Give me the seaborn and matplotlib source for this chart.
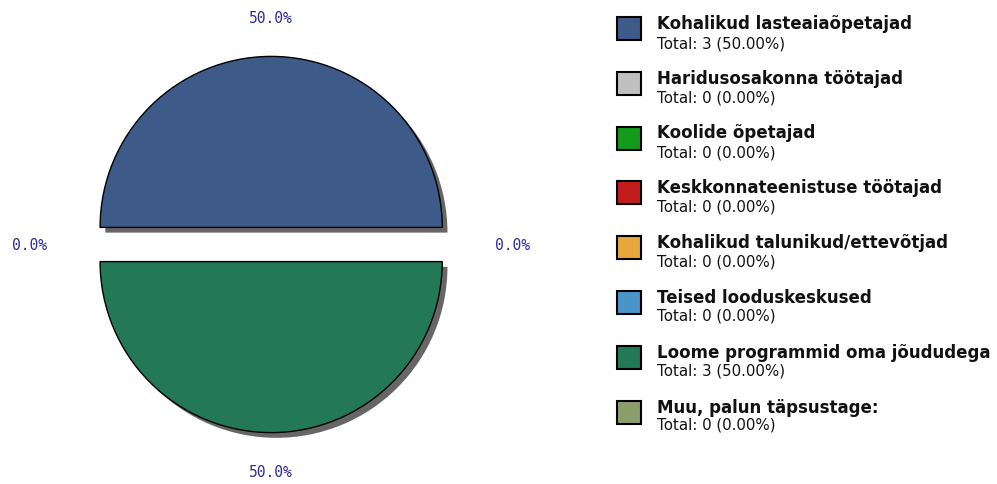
import numpy as np
import seaborn as sns
import matplotlib.pyplot as plt
from matplotlib.patches import Patch, Rectangle
from matplotlib.legend_handler import HandlerPatch

categories = ["Kohalikud lasteaiaõpetajad", "Haridusosakonna töötajad", "Koolide õpetajad",
              "Keskkonnateenistuse töötajad", "Kohalikud talunikud/ettevõtjad",
              "Teised looduskeskused", "Loome programmid oma jõududega", "Muu, palun täpsustage:"]
counts = [3, 0, 0, 0, 0, 0, 3, 0]
colors = ["#3d5a89", "#c0c0c0", "#149b1c", "#c41c1c", "#e6a83c", "#4b94c8", "#237858", "#8b9d6b"]

sns.set_theme(style="white")
plt.rcParams['font.family'] = ['DejaVu Sans']

total = sum(counts)
pcts = [100.0 * c / total for c in counts]

fig = plt.figure(figsize=(9.97, 4.85), dpi=100)
ax = fig.add_axes([0, 0, 0.545, 1])

wedges, texts = ax.pie(counts, colors=colors, startangle=0, counterclock=True,
                       explode=[0.1] * len(counts), radius=1.0,
                       labels=["%.1f%%" % p for p in pcts], labeldistance=1.3,
                       shadow={'ox': 0.022, 'oy': -0.022, 'facecolor': '#666666',
                               'edgecolor': 'none', 'alpha': 1, 'zorder': 0.5},
                       wedgeprops={'edgecolor': 'black', 'linewidth': 1.0, 'zorder': 1})

# percentage labels placed on an ellipse around the pie, one per angle
seen = set()
for w, t, c in zip(wedges, texts, counts):
    if c == 0:
        w.set_linewidth(0)
    ang = np.deg2rad((w.theta1 + w.theta2) / 2)
    key = round(np.cos(ang), 3), round(np.sin(ang), 3)
    t.set_visible(key not in seen)
    seen.add(key)
    t.set_position((1.41 * np.cos(ang), 1.33 * np.sin(ang)))
    t.set_ha('center')
    t.set_va('center')
    t.set_color('#2b2b9b')
    t.set_family('DejaVu Sans Mono')
    t.set_fontsize(10.5)

ax.set_xlim(-1.585, 1.591)
ax.set_ylim(-1.4006, 1.4357)
ax.set_aspect('auto')
ax.axis('off')


def low_square(legend, orig_handle, xdescent, ydescent, width, height, fontsize):
    # swatch sits a bit lower than the text baseline
    return Rectangle((-xdescent, -ydescent - 4.3), width, height)


# legend: category names with swatches, then a second legend with the totals
fs1, fs2 = 12, 10.8
hl, hh, tp, ls = 1.44, 1.75, 1.0, 1.91
x0 = 0.612
handles = [Patch(facecolor=c, edgecolor='black', linewidth=1.5) for c in colors]
leg = fig.legend(handles, categories, loc='upper left', bbox_to_anchor=(x0, 0.977 + 6 / 485),
                 frameon=False, prop={'weight': 'bold', 'size': fs1},
                 handlelength=hl, handleheight=hh, handletextpad=tp,
                 labelspacing=ls, borderaxespad=0,
                 handler_map={Patch: HandlerPatch(patch_func=low_square)})
for t in leg.get_texts():
    t.set_color('#111111')

totals = ["Total: %d (%.2f%%)" % (c, p) for c, p in zip(counts, pcts)]
blank = [Patch(facecolor='none', edgecolor='none') for c in colors]
k = fs1 / fs2
leg2 = fig.legend(blank, totals, loc='upper left', bbox_to_anchor=(x0, 0.977 - 15 / 485),
                  frameon=False, prop={'size': fs2},
                  handlelength=hl * k, handleheight=hh * k, handletextpad=tp * k,
                  labelspacing=ls * k, borderaxespad=0)
for t in leg2.get_texts():
    t.set_color('#111111')

fig.savefig("out.png", dpi=100)
